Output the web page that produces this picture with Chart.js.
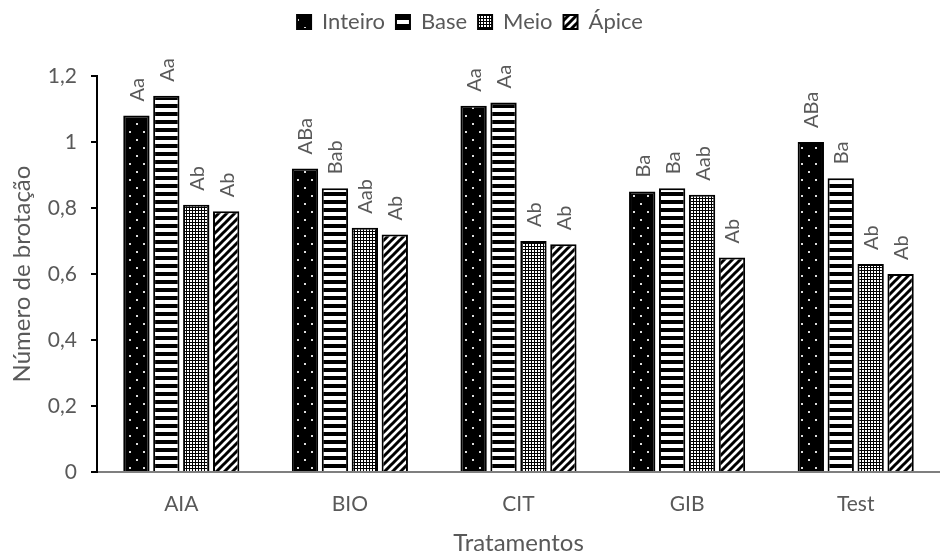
<!DOCTYPE html>
<html>
<head>
<meta charset="utf-8">
<script src="https://cdn.jsdelivr.net/npm/chart.js@4/dist/chart.umd.min.js"></script>
<style>
  html, body { margin: 0; padding: 0; background: #fff; }
  #wrap { width: 940px; height: 556px; }
</style>
</head>
<body>
<div id="wrap"><canvas id="chart" width="940" height="556"></canvas></div>
<script>
const categories = ['AIA', 'BIO', 'CIT', 'GIB', 'Test'];
const seriesNames = ['Inteiro', 'Base', 'Meio', 'Ápice'];
const inteiro = [1.08, 0.92, 1.11, 0.85, 1.00];
const base = [1.14, 0.86, 1.12, 0.86, 0.89];
const meio = [0.81, 0.74, 0.70, 0.84, 0.63];
const apice = [0.79, 0.72, 0.69, 0.65, 0.60];
const lblInteiro = ['Aa', 'ABa', 'Aa', 'Ba', 'ABa'];
const lblBase = ['Aa', 'Bab', 'Aa', 'Ba', 'Ba'];
const lblMeio = ['Ab', 'Aab', 'Ab', 'Aab', 'Ab'];
const lblApice = ['Ab', 'Ab', 'Ab', 'Ab', 'Ab'];
const yTicks = [0, 0.2, 0.4, 0.6, 0.8, 1, 1.2];

const FONT = 'Lato, "Open Sans", sans-serif';
const GREY = '#595959';

function makePattern(w, h, draw) {
    const c = document.createElement('canvas');
    c.width = w; c.height = h;
    const g = c.getContext('2d');
    draw(g, w, h);
    return c.getContext('2d').createPattern(c, 'repeat');
}

// black with sparse white dots
const patDots = makePattern(14, 16, (g, w, h) => {
    g.fillStyle = '#000'; g.fillRect(0, 0, w, h);
    g.fillStyle = '#ddd';
    g.fillRect(3, 3, 2, 2);
    g.fillRect(10, 11, 2, 2);
});
// horizontal stripes
const patHoriz = makePattern(8, 8, (g, w, h) => {
    g.fillStyle = '#fff'; g.fillRect(0, 0, w, h);
    g.fillStyle = '#000'; g.fillRect(0, 0, w, 4);
});
// fine grid
const patGrid = makePattern(3, 3, (g, w, h) => {
    g.fillStyle = '#000'; g.fillRect(0, 0, w, h);
    g.fillStyle = '#fff'; g.fillRect(1, 1, 2, 2);
});
// diagonal stripes
const patDiag = makePattern(8, 8, (g, w, h) => {
    g.fillStyle = '#fff'; g.fillRect(0, 0, w, h);
    g.strokeStyle = '#000'; g.lineWidth = 3;
    g.beginPath();
    g.moveTo(-2, 10); g.lineTo(10, -2);
    g.moveTo(-6, 6); g.lineTo(6, -6);
    g.moveTo(2, 14); g.lineTo(14, 2);
    g.stroke();
});

const seriesData = [inteiro, base, meio, apice];
const seriesLabels = [lblInteiro, lblBase, lblMeio, lblApice];
const patterns = [patDots, patHoriz, patGrid, patDiag];

const datasets = seriesNames.map((name, i) => ({
    label: name,
    data: seriesData[i],
    letters: seriesLabels[i],
    backgroundColor: patterns[i],
    borderColor: '#000',
    borderWidth: 2,
    categoryPercentage: 0.71,
    barPercentage: 0.88
}));

// letters written upright over each bar
const letterPlugin = {
    id: 'letters',
    afterDatasetsDraw(chart) {
        const ctx = chart.ctx;
        chart.data.datasets.forEach((ds, i) => {
            const meta = chart.getDatasetMeta(i);
            meta.data.forEach((bar, j) => {
                ctx.save();
                ctx.translate(bar.x + 1, bar.y - 14);
                ctx.rotate(-Math.PI / 2);
                ctx.font = '20px ' + FONT;
                ctx.fillStyle = GREY;
                ctx.textAlign = 'left';
                ctx.textBaseline = 'middle';
                ctx.fillText(ds.letters[j], 0, 0);
                ctx.restore();
            });
        });
    }
};

// keep the legend box tall so the plot starts lower
const legendSpace = {
    id: 'legendSpace',
    beforeLayout(chart) {
        const lg = chart.legend;
        if (lg && !lg._wrapped) {
            const fit = lg.fit;
            lg.fit = function () { fit.call(this); this.height = 76; };
            lg._wrapped = true;
        }
    }
};

new Chart(document.getElementById('chart'), {
    type: 'bar',
    data: { labels: categories, datasets: datasets },
    options: {
        responsive: false,
        animation: false,
        layout: { padding: 0 },
        plugins: {
            tooltip: { enabled: false },
            legend: {
                position: 'top',
                labels: {
                    boxWidth: 14,
                    boxHeight: 14,
                    padding: 11,
                    color: GREY,
                    font: { family: FONT, size: 22 }
                }
            }
        },
        scales: {
            x: {
                grid: { display: false },
                border: { color: '#7f7f7f', width: 2 },
                ticks: { color: GREY, font: { family: FONT, size: 21 }, padding: 12 },
                title: { display: true, text: 'Tratamentos', color: GREY, font: { family: FONT, size: 24, lineHeight: 1.1 }, padding: { top: 0, bottom: 0 } },
                afterFit(scale) { scale.height = 84; }
            },
            y: {
                min: 0,
                max: 1.2,
                afterBuildTicks(scale) { scale.ticks = yTicks.map(v => ({ value: v })); },
                grid: { drawOnChartArea: false, tickLength: 6, color: '#000', lineWidth: 2 },
                border: { color: '#000', width: 2 },
                ticks: {
                    color: GREY,
                    font: { family: FONT, size: 21 },
                    padding: 14,
                    callback: v => String(Math.round(v * 10) / 10).replace('.', ',')
                },
                title: { display: true, text: 'Número de brotação', color: GREY, font: { family: FONT, size: 24, lineHeight: 1.1 }, padding: { top: 9, bottom: 0 } },
                afterFit(scale) { scale.width = 97; }
            }
        }
    },
    plugins: [letterPlugin, legendSpace]
});
</script>
</body>
</html>
